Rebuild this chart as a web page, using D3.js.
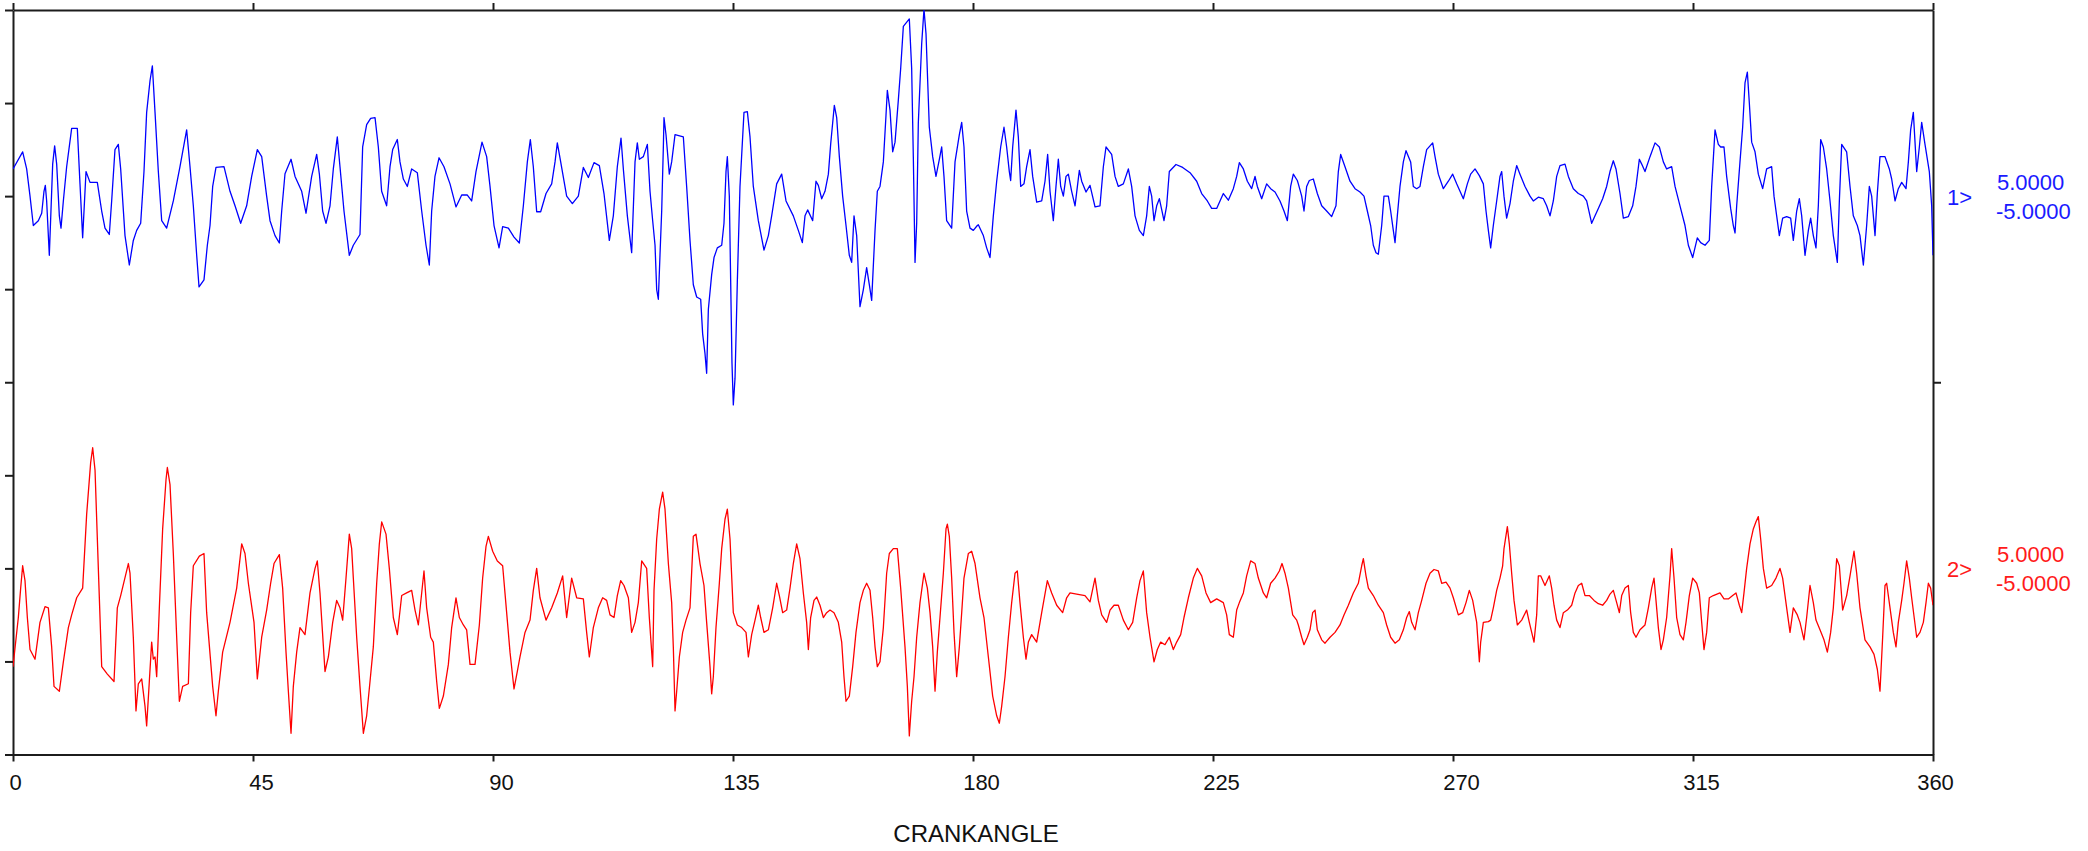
<!DOCTYPE html>
<html>
<head>
<meta charset="utf-8">
<script src="https://cdn.jsdelivr.net/npm/d3@7"></script>
<style>
html,body{margin:0;padding:0;background:#fff;}
svg{display:block;}
text{font-family:"Liberation Sans",Arial,sans-serif;}
</style>
</head>
<body>
<svg id="chart" width="2088" height="851"></svg>
<script>
// ---- data (crank angle in degrees, channel value) ----
const xTicks = [0, 45, 90, 135, 180, 225, 270, 315, 360];
const xTitle = "CRANKANGLE";
const channelNames = ["1>", "2>"];
const channelMax = ["5.0000", "5.0000"];
const channelMin = ["-5.0000", "-5.0000"];

const ch1Angle = [0,1.81,2.56,3.19,3.81,4.75,5.38,5.81,6.06,6.31,6.81,7.44,7.81,8.19,8.69,9.0,9.44,10.06,11.0,12.06,12.56,13.06,13.69,14.44,15.81,16.63,17.25,18.06,18.5,19.12,19.75,20.19,21.0,21.81,22.56,23.19,23.94,24.56,25.06,25.69,26.13,26.63,27.25,27.88,28.81,30.06,31.31,32.56,33.19,33.81,34.44,34.88,35.81,36.44,36.94,37.44,38.06,39.56,40.69,41.63,42.69,43.81,44.75,45.81,46.63,47.56,48.19,49.13,49.94,50.38,51.0,52.13,52.88,54.13,54.94,56.0,56.94,57.44,58.06,58.69,59.44,60.06,60.81,61.31,
62.06,63.06,63.81,65.06,65.56,66.31,67.06,67.88,68.5,69.12,70.06,70.69,71.19,72.06,72.56,73.19,73.94,74.75,75.81,76.63,77.44,78.06,78.5,79.12,79.88,80.81,81.94,83.06,84.13,85.19,86.0,86.81,87.94,88.81,89.44,90.19,91.13,91.81,92.88,93.94,94.94,95.69,96.44,97.0,97.56,98.19,98.94,99.94,101.0,101.63,102.06,102.69,103.81,104.88,106.0,106.94,107.88,108.94,109.94,110.81,111.81,112.56,113.31,114.0,114.44,115.19,116.0,116.63,117.06,117.44,
118.19,118.94,119.44,119.94,120.38,120.69,121.0,121.31,121.63,121.94,122.06,122.44,123.06,123.5,124.13,125.69,126.31,126.94,127.56,128.19,128.94,129.31,129.75,130.06,130.38,131.0,131.44,132.06,132.88,133.31,133.69,133.94,134.31,134.56,134.81,135.06,135.38,135.81,136.31,137.06,137.69,138.19,138.81,139.75,140.81,141.63,142.25,143.19,144.13,144.94,146.31,147.25,148.0,148.5,149.0,149.94,150.56,151.0,151.63,152.25,152.88,153.31,154.0,154.44,154.94,155.56,156.19,156.81,157.25,157.69,158.19,158.81,159.44,160.06,160.56,161.0,161.63,162.06,162.56,163.19,163.69,163.94,164.44,164.94,165.38,166.0,166.44,166.94,168.06,168.5,168.81,169.13,169.44,169.75,170.38,170.81,171.19,171.81,172.44,173.06,173.69,174.13,174.56,175.06,176.0,176.63,177.44,177.88,178.31,178.81,179.44,180.06,180.81,
181.0,181.94,182.56,183.19,183.81,184.44,185.19,185.81,186.31,186.81,187.06,187.44,188.06,188.5,188.94,189.56,190.06,190.69,191.19,191.94,192.88,193.5,194.0,194.44,195.06,195.56,196.0,196.44,196.94,197.44,197.88,198.5,199.13,199.94,200.38,201.19,201.94,202.88,203.81,204.44,204.94,206.0,206.63,207.25,208.19,209.13,209.75,210.38,211.19,211.94,212.56,213.06,213.5,213.94,214.44,214.94,215.44,215.81,216.31,216.81,218.06,219.31,220.69,221.94,222.88,223.94,224.75,225.69,226.94,227.88,228.81,229.44,229.94,230.69,231.44,232.25,232.88,233.31,234.13,235.06,235.81,236.63,237.56,238.31,238.94,239.56,240.06,240.81,
241.0,241.63,242.06,242.56,243.06,243.81,244.56,245.38,246.31,247.25,248.06,248.5,248.94,249.75,250.69,251.63,252.56,253.31,253.94,254.56,255.06,255.56,256.0,256.63,257.06,257.88,258.31,258.81,259.13,259.56,260.06,260.69,261.19,262.06,262.56,263.19,263.81,264.44,265.06,265.69,266.19,266.63,267.25,268.19,269.13,269.94,270.69,271.94,272.69,273.31,274.13,274.94,275.69,276.19,276.63,277.06,277.56,278.19,278.81,279.13,279.56,280.06,280.69,281.31,281.94,282.56,283.5,284.44,285.06,286.0,286.94,287.56,288.19,288.81,289.44,290.06,291.0,291.63,292.56,293.5,294.44,295.06,296.0,296.63,297.25,298.06,298.81,299.44,300.06,300.56,
301.31,301.94,302.88,303.69,304.31,304.94,305.38,306.0,306.94,307.88,308.69,309.44,310.06,311.0,311.63,312.56,313.5,314.13,314.94,315.81,316.44,317.25,318.06,318.5,319.13,319.75,320.19,320.81,321.31,322.06,322.56,322.88,323.19,323.81,324.31,324.75,325.19,325.56,326.0,326.63,327.25,328.06,328.81,329.75,330.19,330.69,331.19,331.81,332.56,333.31,333.81,334.44,334.94,335.38,336.0,336.63,337.06,337.56,338.06,338.5,338.94,339.44,340.06,340.69,341.31,342.06,342.44,342.88,343.81,344.44,345.06,345.81,346.31,346.94,347.56,348.06,348.5,349.13,349.56,350.06,351.0,351.81,352.25,352.88,353.5,354.13,354.94,355.38,355.81,356.31,356.94,357.44,357.88,358.5,359.31,359.75,360.0];
const ch1Value = [0.73,1.19,0.73,0,-0.79,-0.66,-0.46,0.13,0.29,-0.13,-1.59,0.86,1.35,0.86,-0.53,-0.86,-0.13,0.79,1.82,1.82,0.33,-1.12,0.66,0.37,0.37,-0.40,-0.86,-1.03,-0.13,1.25,1.39,0.73,-1.06,-1.85,-1.19,-0.92,-0.73,0.66,2.25,3.10,3.50,2.25,0.66,-0.66,-0.86,-0.13,0.79,1.78,0.79,-0.26,-1.59,-2.44,-2.25,-1.32,-0.79,0.26,0.77,0.79,0.13,-0.26,-0.73,-0.26,0.53,1.25,1.06,0,-0.66,-1.06,-1.26,-0.40,0.60,0.99,0.53,0.13,-0.46,0.53,1.12,0.60,-0.40,-0.73,-0.26,0.73,1.59,0.79,
-0.40,-1.59,-1.32,-1.03,1.32,1.92,2.09,2.11,1.32,0.13,-0.26,0.79,1.25,1.52,0.92,0.46,0.26,0.73,0.63,-0.40,-1.32,-1.85,-0.40,0.53,1.03,0.79,0.33,-0.29,0.03,0.03,-0.13,0.66,1.45,1.06,0.26,-0.79,-1.39,-0.82,-0.86,-1.10,-1.26,-0.26,0.92,1.52,0.79,-0.42,-0.42,0.07,0.33,0.92,1.43,0.92,0,-0.20,0,0.77,0.50,0.90,0.82,0.07,-1.19,-0.53,0.79,1.56,0.73,-0.53,-1.52,0.92,1.43,0.99,
1.06,1.39,0.13,-0.66,-1.32,-2.51,-2.77,-1.59,-0.40,1.32,2.11,1.65,0.59,0.92,1.65,1.59,0.26,-1.19,-2.38,-2.71,-2.77,-3.70,-4.23,-4.76,-3.04,-2.11,-1.65,-1.39,-1.32,-0.73,0.66,1.06,0,-2.25,-4.49,-5.61,-4.89,-2.31,0.26,2.25,2.27,1.59,0.26,-0.66,-1.45,-1.06,-0.53,0.33,0.59,-0.13,-0.53,-0.92,-1.25,-0.53,-0.37,-0.66,0.40,0.29,-0.07,0.13,0.59,1.39,2.44,2.11,1.06,0,-0.79,-1.59,-1.78,-0.53,-1.06,-2.97,-2.51,-1.92,-2.38,-2.80,-0.92,0.13,0.26,0.92,2.18,2.84,2.31,1.19,1.45,2.58,3.43,4.56,4.76,3.43,1.06,-1.78,-0.73,1.98,4.10,5.02,4.36,1.85,1.06,0.53,0.99,1.32,0.53,-0.66,-0.86,0.92,1.65,1.98,1.32,-0.40,-0.86,-0.92,-0.79,
-0.77,-1.06,-1.39,-1.65,-0.53,0.40,1.32,1.85,1.32,0.66,0.42,1.32,2.31,1.59,0.26,0.33,0.79,1.25,0.53,-0.16,-0.13,0.40,1.12,0.13,-0.66,0.26,0.99,0.26,0,0.53,0.59,0.13,-0.26,0.69,0.40,0.11,0.29,-0.29,-0.26,0.79,1.32,1.12,0.53,0.26,0.33,0.73,0.26,-0.53,-0.92,-1.06,-0.53,0.26,0,-0.66,-0.26,-0.07,-0.40,-0.66,-0.26,0.66,0.85,0.77,0.63,0.40,0.07,-0.13,-0.33,-0.33,0.07,-0.11,0.20,0.53,0.90,0.73,0.40,0.20,0.53,0.26,-0.07,0.33,0.20,0.11,-0.13,-0.40,-0.66,0.26,0.59,0.42,
0.33,0,-0.40,0.26,0.42,0.46,0.07,-0.26,-0.40,-0.55,-0.26,0.66,1.12,0.79,0.40,0.20,0.11,0,-0.40,-0.79,-1.32,-1.52,-1.56,-0.79,0,0,-0.40,-0.92,-1.25,-0.53,0.26,0.92,1.22,0.92,0.26,0.20,0.26,0.79,1.25,1.35,1.43,1.06,0.59,0.20,0.40,0.59,0.33,-0.07,0.33,0.59,0.73,0.55,0.33,-0.40,-0.92,-1.39,-0.79,-0.13,0.53,0.66,0,-0.59,-0.20,0.40,0.82,0.59,0.26,0,-0.13,-0.03,-0.07,-0.26,-0.53,-0.13,0.53,0.82,0.86,0.53,0.20,0.07,0,-0.13,-0.73,-0.53,-0.33,-0.07,0.26,0.66,0.95,0.73,
0.07,-0.59,-0.55,-0.26,0.26,0.99,0.86,0.66,1.06,1.43,1.32,0.92,0.73,0.79,0.26,-0.26,-0.79,-1.32,-1.65,-1.12,-1.25,-1.32,-1.19,0.26,1.78,1.39,1.32,1.32,0.53,-0.33,-0.79,-0.99,-0.26,0.92,1.85,3.04,3.33,2.51,1.45,1.19,0.59,0.20,0.73,0.79,0,-0.53,-1.06,-0.59,-0.55,-0.59,-1.19,-0.40,-0.07,-0.53,-1.59,-0.92,-0.59,-1.06,-1.39,-0.26,1.52,1.32,0.73,-0.13,-1.06,-1.78,-0.13,1.39,1.19,0.26,-0.53,-0.79,-1.06,-1.85,-0.79,0.26,0,-1.06,0.07,1.06,1.06,0.73,0.46,-0.13,0.20,0.37,0.20,0.92,1.78,2.25,0.66,1.32,1.98,1.39,0.66,-0.26,-1.59];

const ch2Angle = [0,1.0,1.44,1.81,2.25,2.69,3.19,4.13,5.06,6.0,6.63,7.25,7.69,8.69,9.44,10.38,11.0,11.94,13.06,13.81,14.56,14.94,15.38,16.0,16.63,17.69,18.94,19.56,20.19,21.63,21.94,22.56,23.06,23.5,24.13,24.75,25.06,25.56,26.0,26.31,26.63,26.94,27.44,28.06,28.69,28.94,29.44,30.06,30.69,31.19,31.81,32.88,33.31,33.81,34.94,35.81,36.31,37.44,38.06,38.5,39.31,40.69,41.94,42.88,43.5,44.13,45.19,45.81,46.63,47.56,48.31,48.94,49.94,50.56,51.19,51.63,52.13,52.56,53.19,53.81,54.75,55.69,56.63,57.06,57.56,58.5,59.13,59.94,60.69,61.31,
61.81,62.44,63.06,63.5,63.81,64.44,65.06,65.69,66.31,66.94,67.56,68.19,68.69,69.13,69.94,70.56,71.31,72.06,72.88,73.81,74.75,75.38,76.0,77.06,77.56,78.31,78.81,79.44,79.94,80.69,81.63,82.25,83.06,83.69,84.44,85.06,85.69,86.63,87.44,88.06,88.69,89.13,89.94,90.81,91.81,92.56,93.19,93.94,94.56,95.06,96.0,96.94,97.56,98.19,98.81,99.94,101.0,102.06,103.06,103.81,104.75,105.69,106.94,107.56,108.06,108.81,109.75,110.56,111.31,111.94,112.69,113.31,113.94,114.56,115.38,116.0,116.63,117.25,117.88,
118.81,119.31,119.94,120.19,120.69,121.19,121.81,122.25,122.88,123.5,123.81,124.13,124.44,124.94,125.56,126.19,126.94,127.56,128.06,128.81,129.56,130.06,130.69,131.0,131.31,131.81,132.44,132.88,133.5,133.94,134.44,135.06,135.81,136.63,137.44,137.88,138.5,139.13,139.75,140.19,140.81,141.63,142.44,143.19,143.69,144.31,145.06,145.69,146.31,146.94,147.56,148.19,148.81,149.13,149.56,150.19,150.69,151.31,151.94,152.56,153.19,153.94,154.75,155.38,155.81,156.19,156.81,157.44,158.06,158.81,159.44,160.06,160.69,161.19,161.63,162.06,162.56,163.19,163.81,164.31,165.06,165.81,166.44,167.25,167.69,168.06,168.5,168.94,169.44,170.06,170.81,171.44,171.94,172.44,172.88,173.31,173.81,174.44,174.94,175.19,175.56,176.0,176.44,176.94,177.44,177.88,178.31,179.13,179.75,180.38,181.31,
182.06,182.88,183.69,184.44,184.94,185.38,186.0,186.63,187.25,187.88,188.31,188.81,189.44,189.94,190.38,191.0,191.94,192.88,193.94,194.75,195.69,196.81,197.56,198.19,199.44,201.0,201.94,202.88,203.5,204.13,205.06,205.69,206.44,207.25,208.19,209.13,209.94,210.69,211.31,211.94,212.56,213.19,213.94,214.56,215.19,216.0,216.81,217.56,218.19,218.94,219.56,220.38,221.31,222.06,222.88,223.69,224.56,225.69,226.94,227.56,228.06,228.81,229.44,229.94,230.69,231.31,232.06,232.88,233.5,234.44,235.06,235.81,236.63,237.44,237.94,238.5,239.13,239.94,240.69,
241.0,241.63,242.06,242.69,243.19,243.69,244.13,244.56,245.38,246.0,246.94,247.88,248.81,249.56,250.38,251.31,252.25,252.88,253.19,253.69,254.13,255.06,256.0,256.94,257.56,258.31,259.13,259.94,260.69,261.31,261.81,262.25,262.88,263.5,264.13,264.94,265.69,266.44,267.25,267.88,268.69,269.44,270.06,271.0,271.81,272.44,273.06,273.69,274.44,274.94,275.19,275.69,276.63,277.06,277.56,278.19,278.81,279.31,279.56,280.19,280.56,281.0,281.44,282.06,282.88,283.81,284.31,285.19,285.69,286.0,286.44,287.25,288.06,288.5,288.94,289.44,290.06,290.69,291.44,292.25,292.88,293.5,294.13,294.75,295.56,296.44,297.25,298.06,298.81,299.44,300.06,300.69,
301.19,301.63,302.25,302.88,303.31,303.81,304.31,305.06,306.0,306.63,307.25,307.69,308.06,308.5,309.0,309.44,310.06,310.69,311.0,311.44,311.94,312.56,313.19,313.69,314.31,314.94,315.69,316.19,316.63,317.06,317.56,318.06,318.81,320.06,320.81,321.63,322.44,323.06,323.69,324.13,324.56,325.06,325.69,326.31,326.81,327.25,327.69,328.19,328.81,329.75,330.56,331.31,331.81,332.56,333.19,333.81,334.56,335.06,335.81,336.31,336.94,337.56,338.06,338.81,339.56,340.19,340.81,341.31,341.94,342.44,343.06,343.81,344.44,345.19,345.69,346.31,347.25,348.19,348.94,349.56,350.06,350.56,351.0,351.31,351.94,352.56,353.06,353.5,354.13,354.56,355.06,355.56,356.0,356.94,357.56,358.19,358.69,359.13,359.56,360.0];
const ch2Value = [-2.64,-1.32,-0.53,0.07,-0.33,-1.32,-2.18,-2.44,-1.45,-1.03,-1.06,-2.11,-3.17,-3.30,-2.51,-1.59,-1.25,-0.79,-0.53,1.45,2.84,3.24,2.64,0,-2.64,-2.84,-3.04,-1.06,-0.73,0.13,-0.13,-1.85,-3.83,-3.10,-2.97,-3.70,-4.23,-3.04,-1.98,-2.44,-2.38,-2.91,-1.06,1.06,2.38,2.71,2.25,0.40,-1.85,-3.57,-3.17,-3.10,-1.19,0.07,0.33,0.40,-1.19,-3.17,-3.96,-3.30,-2.25,-1.45,-0.53,0.66,0.40,-0.40,-1.45,-2.97,-1.85,-1.12,-0.40,0.13,0.37,-0.53,-2.25,-3.30,-4.43,-3.17,-2.25,-1.59,-1.78,-0.66,0,0.20,-0.66,-2.77,-2.38,-1.45,-0.86,-1.06,
-1.39,-0.26,0.92,0.53,-0.26,-1.85,-3.17,-4.43,-3.96,-3.04,-2.11,-0.40,0.66,1.25,0.92,0,-1.32,-1.78,-0.73,-0.66,-0.59,-1.12,-1.52,-0.07,-1.06,-1.85,-1.98,-3.04,-3.76,-3.43,-2.58,-1.59,-0.79,-1.32,-1.52,-1.65,-2.58,-2.58,-1.52,-0.26,0.59,0.86,0.46,0.20,0.07,-1.19,-2.25,-3.24,-2.77,-2.38,-1.72,-1.39,-0.59,0,-0.79,-1.39,-1.06,-0.66,-0.20,-1.32,-0.26,-0.79,-0.82,-1.72,-2.38,-1.59,-1.06,-0.79,-0.86,-1.25,-1.32,-0.73,-0.33,-0.46,-0.79,-1.72,-1.45,-0.92,0.20,
0,-1.32,-2.64,-0.59,0.79,1.59,2.05,1.59,0.13,-0.92,-2.11,-3.83,-3.30,-2.38,-1.72,-1.39,-1.06,0.86,0.92,0.13,-0.46,-1.45,-2.64,-3.37,-2.91,-1.59,-0.40,0.53,1.32,1.59,0.79,-1.19,-1.52,-1.59,-1.72,-2.38,-1.78,-1.39,-0.99,-1.32,-1.72,-1.65,-1.06,-0.40,-0.73,-1.19,-1.12,-0.53,0.13,0.66,0.26,-0.66,-1.45,-2.18,-1.32,-0.86,-0.77,-0.99,-1.32,-1.19,-1.12,-1.19,-1.45,-1.98,-2.91,-3.57,-3.43,-2.64,-1.72,-0.92,-0.59,-0.40,-0.59,-1.32,-2.11,-2.64,-2.51,-1.59,-0.13,0.40,0.53,0.53,-0.53,-2.11,-3.17,-4.50,-3.57,-2.91,-1.85,-0.92,-0.13,-0.53,-1.19,-2.11,-3.30,-2.25,-1.32,-0.13,1.06,1.19,0.86,-0.26,-1.72,-2.91,-2.11,-1.19,-0.26,0.40,0.46,0.13,-0.79,
-1.32,-2.38,-3.43,-3.96,-4.16,-3.70,-2.91,-1.85,-0.92,-0.13,-0.07,-0.92,-1.85,-2.44,-1.98,-1.78,-1.98,-1.19,-0.33,-0.66,-0.99,-1.19,-0.79,-0.66,-0.69,-0.73,-0.90,-0.26,-0.86,-1.25,-1.45,-1.12,-0.99,-0.99,-1.39,-1.65,-1.45,-0.79,-0.33,-0.07,-1.19,-1.85,-2.51,-2.18,-1.98,-2.05,-1.85,-2.18,-1.98,-1.78,-1.32,-0.79,-0.26,0,-0.20,-0.66,-0.92,-0.82,-0.92,-1.25,-1.78,-1.85,-1.12,-0.92,-0.66,-0.20,0.20,0.13,-0.26,-0.66,-0.79,-0.40,-0.26,-0.07,0.13,-0.13,-0.53,-1.25,-1.39,
-1.52,-1.85,-2.05,-1.85,-1.65,-1.19,-1.12,-1.65,-1.92,-2.01,-1.85,-1.72,-1.52,-1.25,-0.99,-0.66,-0.40,0.07,0.26,-0.20,-0.53,-0.73,-0.99,-1.19,-1.52,-1.85,-2.01,-1.92,-1.65,-1.32,-1.16,-1.45,-1.65,-1.19,-0.86,-0.40,-0.13,-0.03,-0.07,-0.40,-0.37,-0.53,-0.79,-1.25,-1.19,-0.92,-0.59,-0.86,-1.45,-2.51,-1.98,-1.45,-1.43,-1.39,-1.06,-0.59,-0.26,0.07,0.53,1.12,0.66,-0.13,-0.86,-1.52,-1.39,-1.12,-1.45,-1.98,-1.25,-0.20,-0.20,-0.46,-0.20,-0.53,-0.99,-1.39,-1.59,-1.19,-1.12,-0.99,-0.66,-0.46,-0.40,-0.73,-0.73,-0.86,-0.95,-0.99,-0.86,-0.69,-0.59,-0.92,
-1.19,-0.73,-0.53,-0.46,-1.19,-1.72,-1.85,-1.65,-1.52,-1.06,-0.53,-0.26,-0.86,-1.59,-2.18,-1.92,-1.32,-0.20,0.53,-0.26,-1.32,-1.78,-1.92,-1.45,-0.73,-0.26,-0.40,-0.66,-1.45,-2.18,-1.72,-0.79,-0.73,-0.66,-0.82,-0.82,-0.73,-0.66,-0.99,-1.19,-0.66,0,0.66,1.06,1.25,1.39,0.79,0,-0.53,-0.46,-0.26,0,-0.26,-1.06,-1.72,-1.06,-1.25,-1.45,-1.92,-1.32,-0.46,-0.92,-1.39,-1.65,-1.92,-2.25,-1.72,-1.06,0.26,0.07,-1.12,-0.73,-0.20,0.46,-0.13,-1.06,-1.92,-2.11,-2.31,-2.71,-3.30,-1.85,-0.46,-0.40,-1.06,-1.72,-2.11,-1.45,-0.86,-0.40,0.20,-0.26,-0.79,-1.85,-1.72,-1.45,-0.92,-0.40,-0.53,-0.99];

// ---- chart ----
const pLeft = 13, pRight = 1933, pTop = 10, pBottom = 754.5;
const pMid = (pTop + pBottom) / 2;
const svg = d3.select("#chart");

if (ch1Angle.length !== ch1Value.length) console.error("ch1 length mismatch", ch1Angle.length, ch1Value.length);
if (ch2Angle.length !== ch2Value.length) console.error("ch2 length mismatch", ch2Angle.length, ch2Value.length);
const ch1 = d3.zip(ch1Angle, ch1Value);
const ch2 = d3.zip(ch2Angle, ch2Value);

const x = d3.scaleLinear().domain([0, 360]).range([pLeft, pRight]);
const div = d3.scaleLinear().domain([0, 8]).range([pTop, pBottom]);
const y1 = d3.scaleLinear().domain([-5, 5]).range([pMid, pTop]);
const y2 = d3.scaleLinear().domain([-5, 5]).range([pBottom, pMid]);

svg.append("defs").append("clipPath").attr("id", "plotclip")
  .append("rect").attr("x", pLeft).attr("y", pTop).attr("width", pRight - pLeft).attr("height", pBottom - pTop);

const axisColor = "#1c1c1c";
function styleAxis(g) {
  g.selectAll("path.domain").attr("stroke", axisColor).attr("stroke-width", 2);
  g.selectAll(".tick line").attr("stroke", axisColor).attr("stroke-width", 2);
}

// left axis (divisions)
svg.append("g").attr("transform", `translate(${pLeft},0)`)
  .call(d3.axisLeft(div).tickValues(d3.range(0, 9)).tickSize(8).tickSizeOuter(0).tickFormat(""))
  .call(styleAxis);
// right axis (only middle tick)
svg.append("g").attr("transform", `translate(${pRight},0)`)
  .call(d3.axisRight(div).tickValues([4]).tickSize(8).tickSizeOuter(0).tickFormat(""))
  .call(styleAxis);
// top axis
svg.append("g").attr("transform", `translate(0,${pTop})`)
  .call(d3.axisTop(x).tickValues(xTicks).tickSize(7).tickSizeOuter(0).tickFormat(""))
  .call(styleAxis);
// bottom axis
const gb = svg.append("g").attr("transform", `translate(0,${pBottom})`)
  .call(d3.axisBottom(x).tickValues(xTicks).tickSize(7).tickSizeOuter(0).tickFormat(d3.format("d")))
  .call(styleAxis);
gb.selectAll(".tick text")
  .attr("y", 35.5).attr("dy", 0)
  .attr("dx", d => (d === 0 || d === 360) ? 2 : 8)
  .attr("fill", "#111")
  .style("font-size", "22px")
  .style("font-family", "'Liberation Sans', Arial, sans-serif");

// x title
svg.append("text").attr("x", (pLeft + pRight) / 2 + 3).attr("y", 842)
  .attr("text-anchor", "middle").attr("fill", "#111")
  .style("font-size", "24px").text(xTitle);

// lines
const line1 = d3.line().x(d => x(d[0])).y(d => y1(d[1]));
const line2 = d3.line().x(d => x(d[0])).y(d => y2(d[1]));
const plot = svg.append("g").attr("clip-path", "url(#plotclip)");
plot.append("path").datum(ch1).attr("d", line1)
  .attr("fill", "none").attr("stroke", "#0000ff").attr("stroke-width", 1.3).attr("stroke-linejoin", "round");
plot.append("path").datum(ch2).attr("d", line2)
  .attr("fill", "none").attr("stroke", "#ff0000").attr("stroke-width", 1.3).attr("stroke-linejoin", "round");

// right channel labels
const chanColors = ["#1a1aff", "#ff1a1a"];
const zeros = [y1(0), y2(0)];
[0, 1].forEach(i => {
  const g = svg.append("g").attr("fill", chanColors[i]).style("font-size", "22px");
  g.append("text").attr("x", 1947).attr("y", zeros[i] + 9).text(channelNames[i]);
  g.append("text").attr("x", 1997).attr("y", zeros[i] - 6).text(channelMax[i]);
  g.append("text").attr("x", 1996).attr("y", zeros[i] + 23).text(channelMin[i]);
});
</script>
</body>
</html>
